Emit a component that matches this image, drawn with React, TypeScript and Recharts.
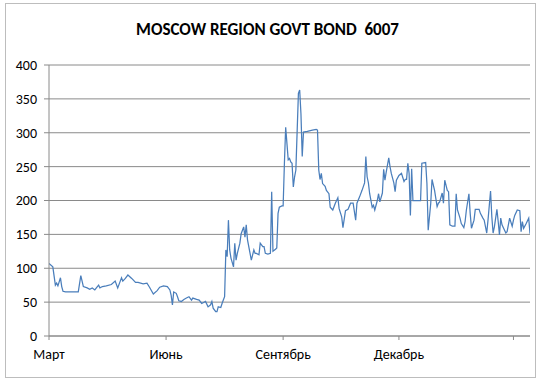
import { LineChart, Line, XAxis, YAxis, CartesianGrid } from "recharts";

// day offset from 1 March
const days = [
  0, 3, 5, 6, 7, 9, 10, 11, 13, 23, 25, 27, 30, 32, 34, 36, 38, 39, 40, 42,
  45, 49, 52, 54, 56, 57, 58, 60, 62, 65, 68, 70, 74, 77, 79, 82, 85, 87, 90, 93,
  95, 96, 97, 98, 100, 101, 102, 104, 106, 108, 110, 112, 113, 116, 118, 120, 123, 125, 127, 128,
  129, 131, 132, 133, 135, 136, 137, 138, 139, 140, 141, 142, 143, 145, 146, 147, 148, 150, 151, 153,
  154, 155, 156, 159, 161, 162, 163, 165, 166, 168, 169, 170, 172, 174, 175, 176, 178, 179, 180, 181,
  183, 184, 185, 186, 187, 188, 189, 190, 191, 192, 193, 194, 196, 197, 198, 199, 200, 203, 207, 210,
  211, 212, 213, 214, 215, 217, 218, 220, 221, 223, 225, 227, 228, 230, 231, 233, 235, 237, 239, 241,
  242, 244, 246, 248, 249, 250, 251, 252, 254, 255, 256, 258, 259, 260, 262, 263, 264, 265, 267, 268,
  269, 271, 272, 273, 275, 277, 279, 280, 281, 282, 283, 284, 285, 286, 292, 293, 296, 297, 298, 300,
  301, 303, 305, 306, 307, 309, 310, 311, 313, 314, 315, 317, 319, 320, 321, 323, 324, 326, 327, 328,
  330, 331, 332, 334, 335, 338, 339, 341, 342, 344, 345, 347, 348, 349, 350, 352, 353, 354, 355, 356,
  358, 359, 360, 362, 364, 365, 366, 368, 370, 371, 372, 373, 375, 377, 378,
];

const values = [
  107, 102, 75, 78, 74, 86, 73, 66, 65, 65, 89, 73, 71, 69, 71, 68, 73, 75, 71, 73,
  74, 76, 81, 71, 81, 86, 81, 85, 90, 85, 79, 79, 77, 78, 72, 62, 67, 72, 74, 73,
  68, 60, 46, 65, 63, 58, 52, 51, 54, 56, 58, 53, 56, 54, 53, 48, 51, 43, 46, 51,
  41, 36, 36, 43, 42, 48, 53, 58, 127, 117, 171, 127, 115, 102, 137, 112, 122, 137, 151, 161,
  146, 164, 142, 112, 127, 122, 122, 120, 137, 132, 132, 122, 121, 122, 213, 125, 128, 130, 181, 190,
  192, 192, 255, 308, 284, 260, 262, 257, 255, 220, 235, 245, 358, 363, 328, 265, 301, 302, 304, 305,
  304, 245, 231, 240, 225, 221, 215, 210, 190, 186, 196, 204, 188, 176, 160, 185, 187, 196, 196, 171,
  196, 205, 215, 226, 265, 235, 226, 210, 190, 193, 186, 200, 210, 198, 211, 246, 230, 242, 263, 250,
  240, 226, 213, 230, 237, 240, 228, 231, 231, 255, 240, 178, 247, 200, 200, 255, 256, 225, 156, 196,
  231, 215, 191, 196, 198, 211, 196, 230, 215, 213, 164, 162, 162, 210, 186, 174, 166, 160, 169, 186,
  210, 181, 159, 171, 187, 187, 181, 174, 171, 152, 171, 214, 176, 152, 161, 187, 169, 149, 174, 164,
  156, 152, 154, 174, 162, 171, 178, 186, 185, 154, 169, 159, 166, 174, 151,
];

const monthTicks = [0, 92, 184, 275, 365];
const monthLabels = ["Март", "Июнь", "Сентябрь", "Декабрь", ""];
const valueTicks = [0, 50, 100, 150, 200, 250, 300, 350, 400];

const data = days.map((d, i) => ({ day: d, value: values[i] }));

const font = "Calibri, Carlito, 'Liberation Sans', Arial, sans-serif";

export default function App() {
  return (
    <div style={{ position: "absolute", left: 0, top: 0, width: 540, height: 379, background: "#fff" }}>
      <div
        style={{
          position: "absolute",
          left: 5,
          top: 3,
          width: 529,
          height: 373,
          border: "1px solid #bdbdbd",
        }}
      />
      <div
        style={{
          position: "absolute",
          left: 0,
          top: 19,
          width: 535,
          textAlign: "center",
          fontFamily: font,
          fontWeight: "bold",
          fontSize: 17,
          lineHeight: "22px",
          color: "#000",
          whiteSpace: "pre",
        }}
      >
        {"MOSCOW REGION GOVT BOND  6007"}
      </div>
      <div style={{ position: "absolute", left: 0, top: 0 }}>
        <LineChart
          width={540}
          height={379}
          data={data}
          margin={{ top: 65, right: 10, bottom: 13, left: 9 }}
        >
          <CartesianGrid vertical={false} stroke="#8a8a8a" strokeWidth={1} />
          <XAxis
            dataKey="day"
            type="number"
            domain={[0, 378]}
            ticks={monthTicks}
            tickFormatter={(v: number) => monthLabels[monthTicks.indexOf(v)] ?? ""}
            interval={0}
            height={30}
            stroke="#8a8a8a"
            tickSize={4}
            tickMargin={9}
            tick={{ fill: "#000", fontSize: 14, fontFamily: font }}
            allowDataOverflow
          />
          <YAxis
            type="number"
            domain={[0, 400]}
            ticks={valueTicks}
            interval={0}
            width={40}
            stroke="#8a8a8a"
            tickSize={5}
            tickMargin={7}
            tick={{ fill: "#000", fontSize: 14, fontFamily: font }}
          />
          <Line
            type="linear"
            dataKey="value"
            stroke="#4a7ebb"
            strokeWidth={1.25}
            dot={false}
            isAnimationActive={false}
          />
        </LineChart>
      </div>
    </div>
  );
}
